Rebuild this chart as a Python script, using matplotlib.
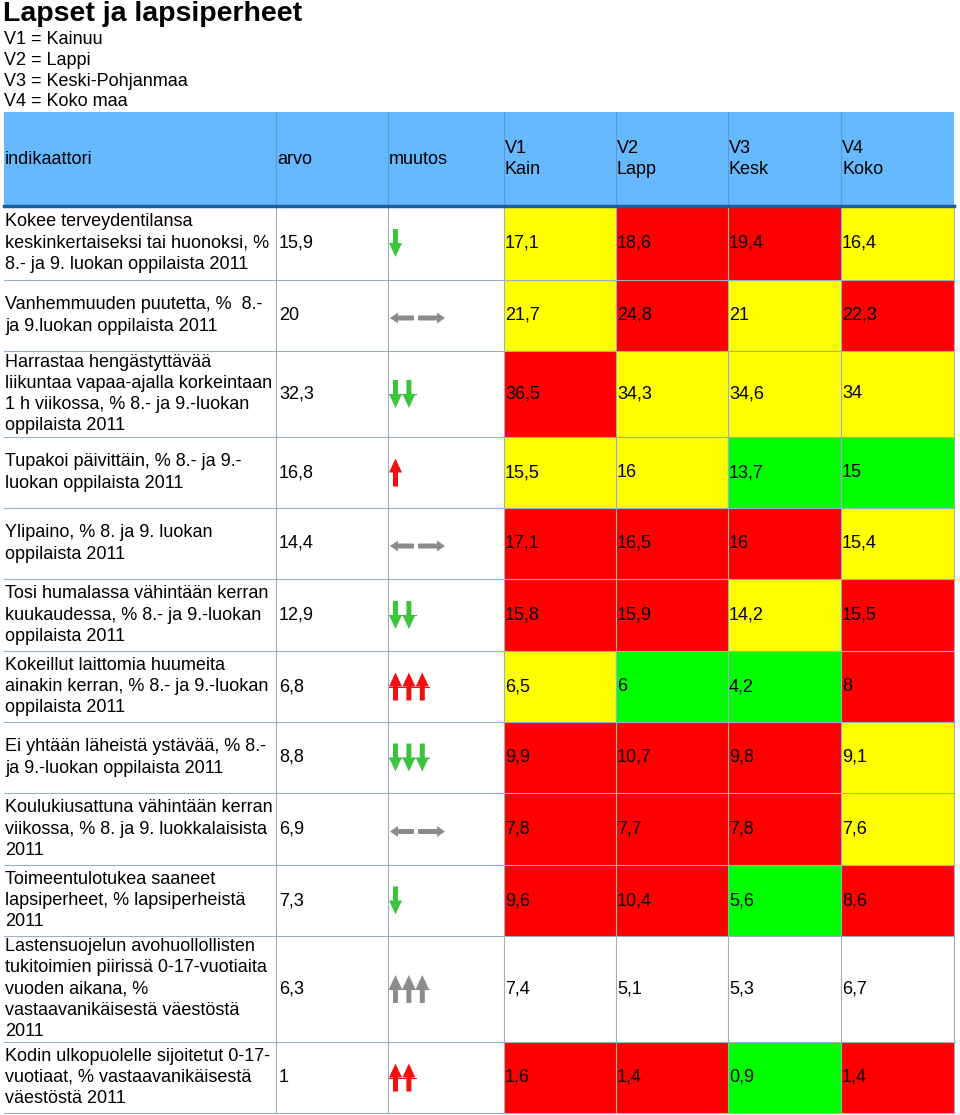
import matplotlib
matplotlib.use("Agg")
import matplotlib.pyplot as plt
from matplotlib.patches import Rectangle, Polygon

plt.rcParams['font.family'] = ['Liberation Sans', 'DejaVu Sans']

title = "Lapset ja lapsiperheet"
legend_lines = ["V1 = Kainuu", "V2 = Lappi", "V3 = Keski-Pohjanmaa", "V4 = Koko maa"]
headers = ["indikaattori", "arvo", "muutos", "V1\nKain", "V2\nLapp", "V3\nKesk", "V4\nKoko"]

labels = [
    "Kokee terveydentilansa\nkeskinkertaiseksi tai huonoksi, %\n8.- ja 9. luokan oppilaista 2011",
    "Vanhemmuuden puutetta, %  8.-\nja 9.luokan oppilaista 2011",
    "Harrastaa hengästyttävää\nliikuntaa vapaa-ajalla korkeintaan\n1 h viikossa, % 8.- ja 9.-luokan\noppilaista 2011",
    "Tupakoi päivittäin, % 8.- ja 9.-\nluokan oppilaista 2011",
    "Ylipaino, % 8. ja 9. luokan\noppilaista 2011",
    "Tosi humalassa vähintään kerran\nkuukaudessa, % 8.- ja 9.-luokan\noppilaista 2011",
    "Kokeillut laittomia huumeita\nainakin kerran, % 8.- ja 9.-luokan\noppilaista 2011",
    "Ei yhtään läheistä ystävää, % 8.-\nja 9.-luokan oppilaista 2011",
    "Koulukiusattuna vähintään kerran\nviikossa, % 8. ja 9. luokkalaisista\n2011",
    "Toimeentulotukea saaneet\nlapsiperheet, % lapsiperheistä\n2011",
    "Lastensuojelun avohuollollisten\ntukitoimien piirissä 0-17-vuotiaita\nvuoden aikana, %\nvastaavanikäisestä väestöstä\n2011",
    "Kodin ulkopuolelle sijoitetut 0-17-\nvuotiaat, % vastaavanikäisestä\nväestöstä 2011",
]
arvo = [15.9, 20, 32.3, 16.8, 14.4, 12.9, 6.8, 8.8, 6.9, 7.3, 6.3, 1]
v1 = [17.1, 21.7, 36.5, 15.5, 17.1, 15.8, 6.5, 9.9, 7.8, 9.6, 7.4, 1.6]
v2 = [18.6, 24.8, 34.3, 16, 16.5, 15.9, 6, 10.7, 7.7, 10.4, 5.1, 1.4]
v3 = [19.4, 21, 34.6, 13.7, 16, 14.2, 4.2, 9.8, 7.8, 5.6, 5.3, 0.9]
v4 = [16.4, 22.3, 34, 15, 15.4, 15.5, 8, 9.1, 7.6, 8.6, 6.7, 1.4]

# cell colour codes per row: R red, Y yellow, G green, W white
c1 = "YYRYRRYRRRWR"
c2 = "RRYYRRGRRRWR"
c3 = "RYYGRYGRRGWG"
c4 = "YRYGYRRYYRWR"

# trend arrows
trend_dir = ["down", "flat", "down", "up", "flat", "down", "up", "down", "flat", "down", "up", "up"]
trend_n = [1, 1, 2, 1, 1, 2, 3, 3, 1, 1, 3, 2]
trend_col = "GNGRNGRGNGNR"

fill = {"R": "#FF0000", "Y": "#FFFF00", "G": "#00FF00", "W": "#FFFFFF"}
arrow_fill = {"G": "#3CC43C", "R": "#F01010", "N": "#8C8C8C"}

# layout (pixels)
col_edges = [4, 276, 388, 504, 616, 728, 841, 954]
head_top, head_bot = 112, 206
row_edges = [206, 280, 351, 437, 508, 579, 651, 722, 793, 865, 936, 1042, 1113]
grid_col = "#9AAFC4"
fs = 13
lsp = 1.33


def fmt(v):
    return "{:g}".format(v).replace(".", ",")


def v_arrow(ax, cx, cy, up, color):
    L, hl, hw, sw = 28, 14, 6.5, 2.5
    s = -1 if up else 1
    tip = cy + s * L / 2
    tail = cy - s * L / 2
    base = tip - s * hl
    pts = [(cx - sw, tail), (cx + sw, tail), (cx + sw, base), (cx + hw, base),
           (cx, tip), (cx - hw, base), (cx - sw, base)]
    ax.add_patch(Polygon(pts, closed=True, fc=color, ec="none"))
    return base


def h_arrow(ax, x0, x1, cy, left, color):
    hl, hh, sh = 8, 5.5, 2.5
    if left:
        tip, b = x0, x0 + hl
        pts = [(tip, cy), (b, cy - hh), (b, cy - sh), (x1, cy - sh), (x1, cy + sh),
               (b, cy + sh), (b, cy + hh)]
    else:
        tip, b = x1, x1 - hl
        pts = [(tip, cy), (b, cy - hh), (b, cy - sh), (x0, cy - sh), (x0, cy + sh),
               (b, cy + sh), (b, cy + hh)]
    ax.add_patch(Polygon(pts, closed=True, fc=color, ec="none"))


fig = plt.figure(figsize=(9.6, 11.15), dpi=100)
ax = fig.add_axes([0, 0, 1, 1])
ax.set_xlim(0, 960)
ax.set_ylim(1115, 0)
ax.axis("off")

ax.text(3, 14, title, fontsize=20.5, fontweight="bold", va="center", ha="left")
for i, s in enumerate(legend_lines):
    ax.text(4, 40 + i * 20.5, s, fontsize=fs, va="center", ha="left")

# header
ax.add_patch(Rectangle((col_edges[0], head_top), col_edges[-1] - col_edges[0],
                       head_bot - head_top, fc="#66B9FF", ec="none"))
for j, h in enumerate(headers):
    ax.text(col_edges[j] + 1, (head_top + head_bot) / 2, h, fontsize=fs,
            va="center", ha="left", linespacing=lsp)
for x in col_edges[1:-1]:
    ax.plot([x, x], [head_top, head_bot], color="#5A9BD5", lw=0.8)

# body
cols = [c1, c2, c3, c4]
vals = [v1, v2, v3, v4]
for i in range(len(labels)):
    top, bot = row_edges[i], row_edges[i + 1]
    cy = (top + bot) / 2
    for k in range(4):
        x0 = col_edges[3 + k]
        ax.add_patch(Rectangle((x0, top), col_edges[4 + k] - x0, bot - top,
                               fc=fill[cols[k][i]], ec="none"))
        ax.text(x0 + 1, cy, fmt(vals[k][i]), fontsize=fs, va="center", ha="left")
    ax.text(col_edges[0] + 1, cy, labels[i], fontsize=fs, va="center", ha="left",
            linespacing=lsp)
    ax.text(col_edges[1] + 3, cy, fmt(arvo[i]), fontsize=fs, va="center", ha="left")

    color = arrow_fill[trend_col[i]]
    ax0 = col_edges[2] + 7.5
    if trend_dir[i] == "flat":
        ay = cy + 2.5
        h_arrow(ax, col_edges[2] + 2, col_edges[2] + 26, ay, True, color)
        h_arrow(ax, col_edges[2] + 30, col_edges[2] + 57, ay, False, color)
    else:
        n = trend_n[i]
        for a in range(n):
            base = v_arrow(ax, ax0 + a * 13.4, cy, trend_dir[i] == "up", color)
        if n > 1:
            ax.plot([ax0 - 7, ax0 + (n - 1) * 13.4 + 7], [base, base], color=color, lw=0.8)

# grid
for y in row_edges[1:]:
    ax.plot([col_edges[0], col_edges[-1]], [y, y], color=grid_col, lw=0.8)
for x in col_edges[1:]:
    ax.plot([x, x], [head_bot, row_edges[-1]], color=grid_col, lw=0.8)
ax.plot([col_edges[0], col_edges[-1]], [head_bot, head_bot], color="#1B5E9E", lw=2.5)

fig.savefig("out.png", dpi=100)
